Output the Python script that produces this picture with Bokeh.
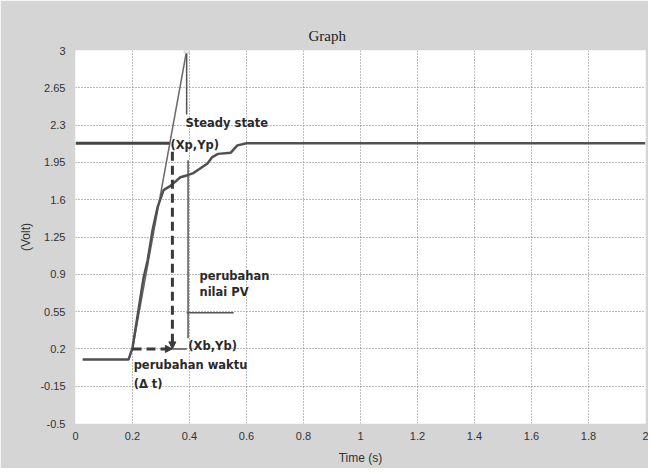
from bokeh.plotting import figure
from bokeh.models import FixedTicker, Arrow, NormalHead
from bokeh.core.properties import value
from bokeh.embed import file_html
from bokeh.resources import INLINE

# ---- data ----
time_pv = [0.025, 0.186, 0.20, 0.239, 0.253, 0.27, 0.288, 0.309, 0.333, 0.368, 0.393,
           0.414, 0.463, 0.48, 0.50, 0.544, 0.568, 0.60, 2.0]
volt_pv = [0.10, 0.10, 0.21, 0.87, 1.03, 1.31, 1.53, 1.69, 1.73, 1.81, 1.83,
           1.85, 1.94, 2.0, 2.03, 2.04, 2.11, 2.13, 2.13]

steady_x = [0.0, 0.33]
steady_y = [2.13, 2.13]
tangent_x = [0.20, 0.39]
tangent_y = [0.2, 3.0]
drop_x = [0.39, 0.39]
drop_y = [3.0, 2.4]
bracket_x = [0.395, 0.395]
bracket_y = [1.97, 0.3]
dash_v_x = [0.34, 0.34]
dash_v_y = [2.05, 0.24]
dash_h_x = [0.20, 0.32]
dash_h_y = [0.2, 0.2]
solid_h_x = [0.34, 0.39]
solid_h_y = [0.2, 0.2]
pv_seg_x = [0.39, 0.555]
pv_seg_y = [0.54, 0.54]

y_ticks = [-0.5, -0.15, 0.2, 0.55, 0.9, 1.25, 1.6, 1.95, 2.3, 2.65, 3.0]
y_tick_labels = ["-0.5", "-0.15", "0.2", "0.55", "0.9", "1.25", "1.6", "1.95", "2.3", "2.65", "3"]
x_ticks = [0, 0.2, 0.4, 0.6, 0.8, 1.0, 1.2, 1.4, 1.6, 1.8, 2.0]
x_tick_labels = ["0", "0.2", "0.4", "0.6", "0.8", "1", "1.2", "1.4", "1.6", "1.8", "2"]

note_texts = ["Steady state", "(Xp,Yp)", "perubahan", "nilai PV", "(Xb,Yb)", "perubahan waktu", "(\u0394 t)"]
note_x = [0.386, 0.333, 0.435, 0.435, 0.396, 0.204, 0.204]
note_y = [2.32, 2.11, 0.88, 0.73, 0.23, 0.05, -0.13]

p = figure(width=648, height=468, output_backend="svg", toolbar_location=None,
           x_range=(0, 2), y_range=(-0.5, 3.0),
           min_border_left=75, min_border_right=3, min_border_top=50, min_border_bottom=45)
p.border_fill_color = "#d5d5d5"
p.background_fill_color = "white"
p.outline_line_color = None

p.title.text = "Graph"
p.title.align = "left"
p.title.offset = 233
p.title.standoff = 14
p.title.text_font = "Liberation Serif"
p.title.text_font_size = "15px"
p.title.text_font_style = "normal"
p.title.text_color = "#222222"

for ax in (p.xaxis, p.yaxis):
    ax.axis_line_color = None
    ax.major_tick_line_color = None
    ax.minor_tick_line_color = None
    ax.major_tick_out = 0
    ax.major_tick_in = 0
    ax.minor_tick_out = 0
    ax.minor_tick_in = 0
    ax.major_label_text_font = "Liberation Sans"
    ax.major_label_text_font_size = "11px"
    ax.major_label_text_color = "#333333"
    ax.axis_label_text_font = "Liberation Sans"
    ax.axis_label_text_font_size = "12px"
    ax.axis_label_text_font_style = "normal"
    ax.axis_label_text_color = "#333333"

p.xaxis.ticker = FixedTicker(ticks=x_ticks)
p.yaxis.ticker = FixedTicker(ticks=y_ticks)
p.xaxis.major_label_overrides = {t: l for t, l in zip(x_ticks, x_tick_labels)}
p.yaxis.major_label_overrides = {t: l for t, l in zip(y_ticks, y_tick_labels)}
p.xaxis.major_label_standoff = 8
p.yaxis.major_label_standoff = 10
p.xaxis.axis_label = "Time (s)"
p.yaxis.axis_label = "(Volt)"
p.xaxis.axis_label_standoff = 8
p.yaxis.axis_label_standoff = 4

for g in (p.xgrid, p.ygrid):
    g.grid_line_color = "#7a7a7a"
    g.grid_line_dash = "1 2"
    g.grid_line_width = 1

# lines
p.line(tangent_x, tangent_y, line_color="#6a6a6a", line_width=1.5)
p.line(drop_x, drop_y, line_color="#555555", line_width=1.5)
p.line(bracket_x, bracket_y, line_color="#555555", line_width=1.5)
p.line(pv_seg_x, pv_seg_y, line_color="#555555", line_width=1.5)
p.line(time_pv, volt_pv, line_color="#505050", line_width=2.5)
p.line(steady_x, steady_y, line_color="#444444", line_width=3)
p.line(dash_v_x, dash_v_y, line_color="#3a3a3a", line_width=3, line_dash="9 5")
p.line(dash_h_x, dash_h_y, line_color="#3a3a3a", line_width=3, line_dash="9 5")
p.line(solid_h_x, solid_h_y, line_color="#555555", line_width=1.5)
p.add_layout(Arrow(end=NormalHead(size=7, fill_color="#3a3a3a", line_color="#3a3a3a"),
                   x_start=dash_v_x[1], y_start=dash_v_y[1] + 0.05, x_end=dash_v_x[1], y_end=0.2,
                   line_color="#3a3a3a", line_width=2))
p.add_layout(Arrow(end=NormalHead(size=7, fill_color="#3a3a3a", line_color="#3a3a3a"),
                   x_start=dash_h_x[1], y_start=0.2, x_end=0.34, y_end=0.2,
                   line_color="#3a3a3a", line_width=2))
p.scatter([tangent_x[1]], [tangent_y[1]], marker="square", size=5,
          fill_color="#f4f4f4", line_color="#cccccc")

p.text(x=note_x, y=note_y, text=note_texts, text_font=value("DejaVu Sans"),
       text_font_size="11.5px", text_font_style="bold", text_color="#2a2a2a",
       text_baseline="middle", text_align="left")

open("out.html", "w").write(file_html(p, INLINE))
